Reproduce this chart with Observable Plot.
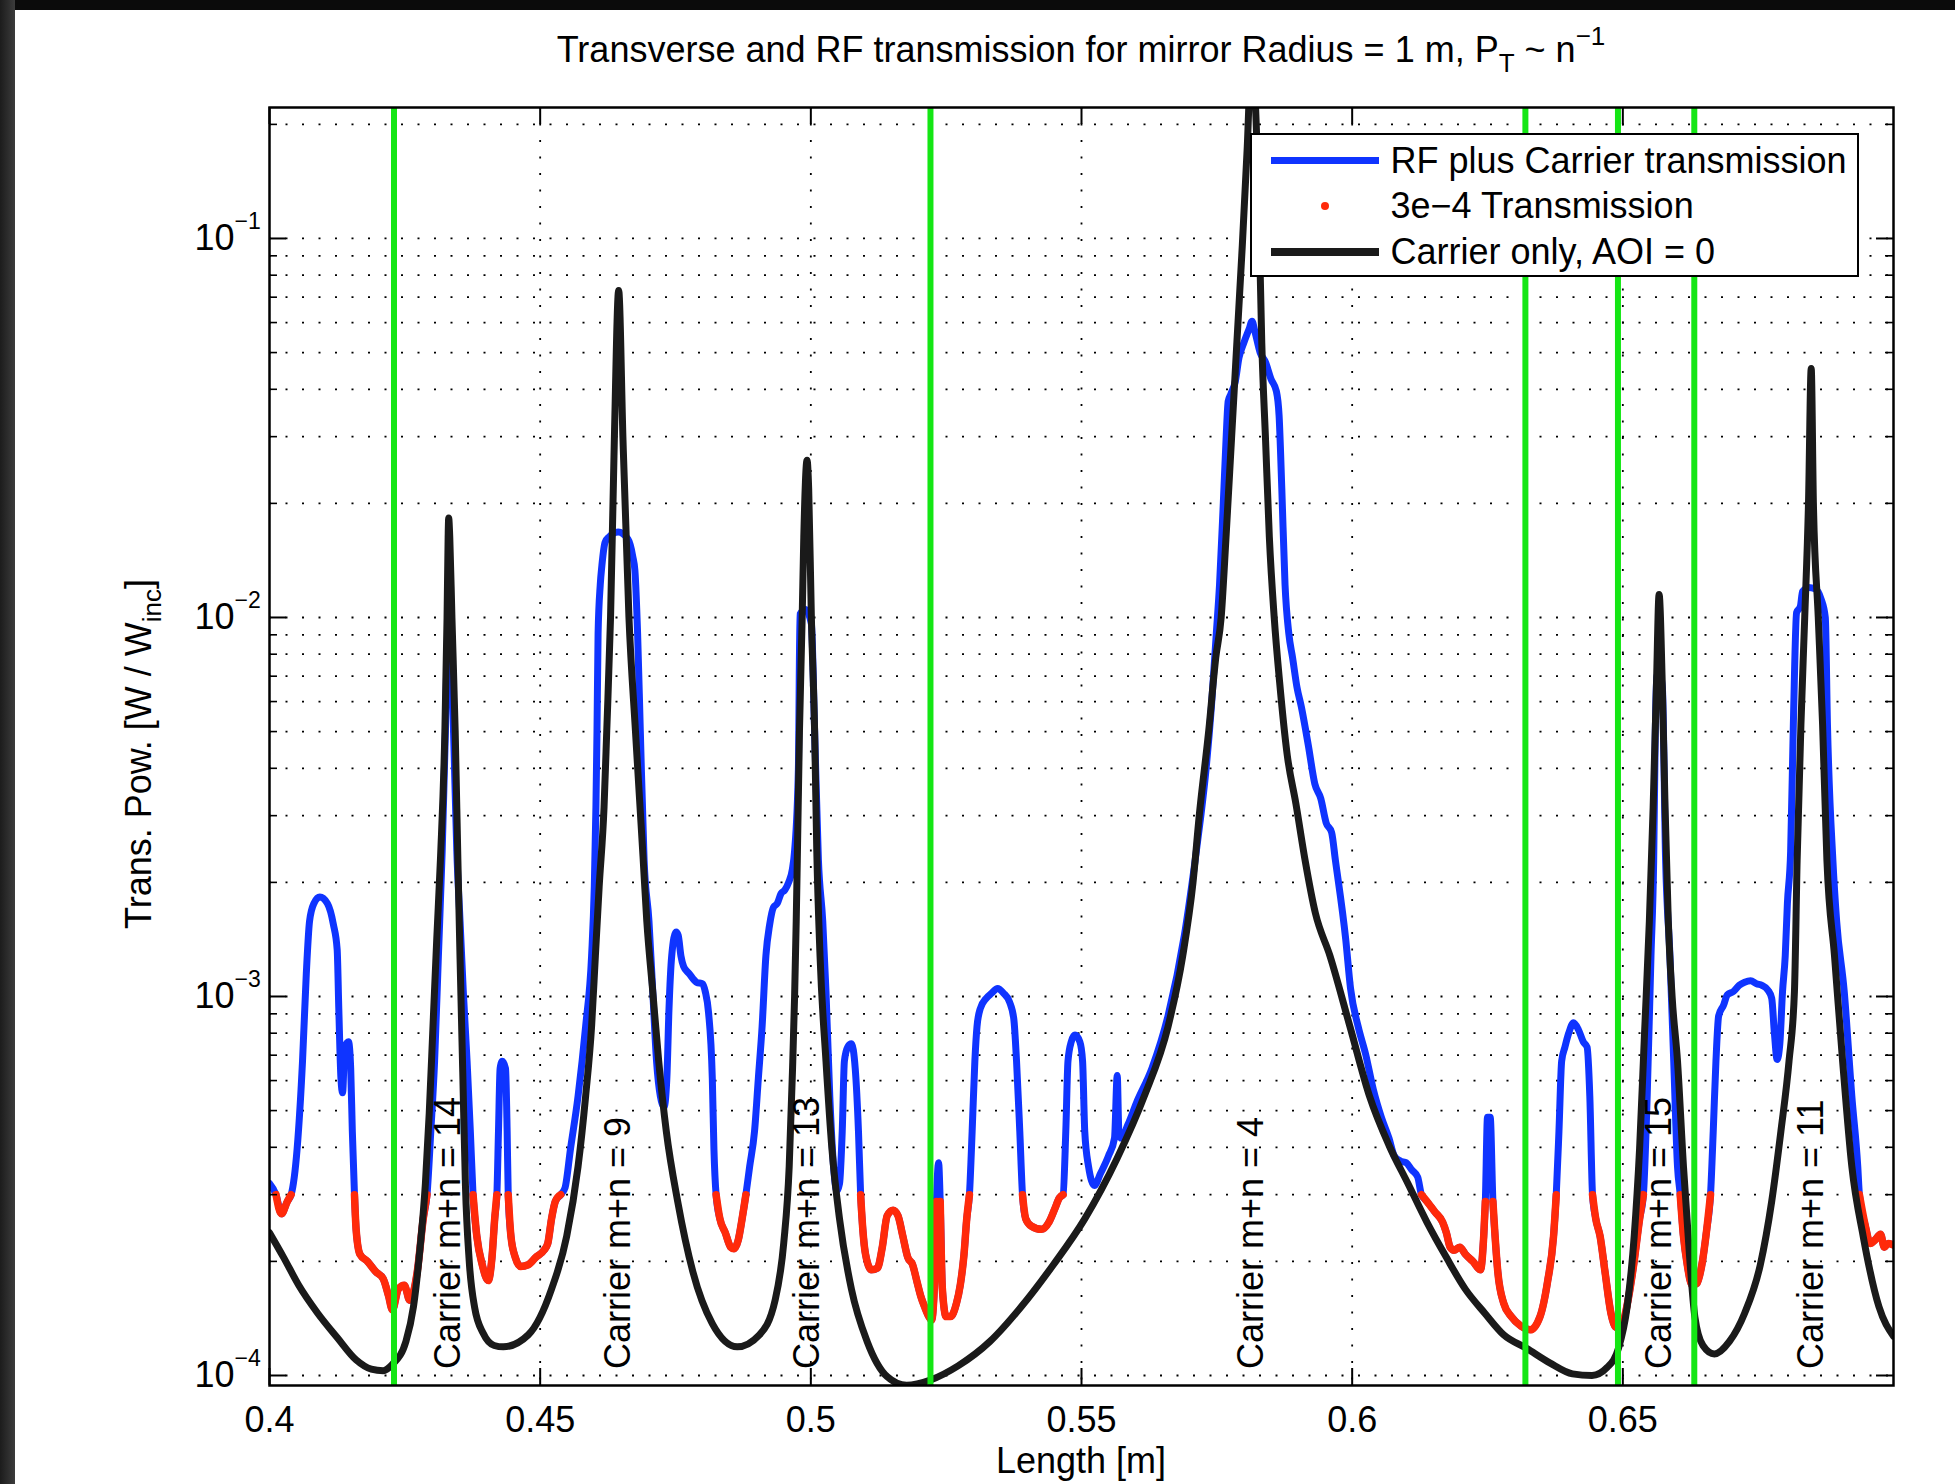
<!DOCTYPE html>
<html>
<head>
<meta charset="utf-8">
<script src="https://cdn.jsdelivr.net/npm/d3@7"></script>
<script src="https://cdn.jsdelivr.net/npm/@observablehq/plot@0.6"></script>
<style>
  html, body { margin: 0; padding: 0; width: 1955px; height: 1484px; overflow: hidden; background: #0b0b0b;
    font-family: "Liberation Sans", Arial, Helvetica, sans-serif; color: #000; }
  #leftstrip { position: absolute; left: 0; top: 0; width: 15px; height: 1484px; background: linear-gradient(to right, #1c1c1c, #3c3c3c); }
  #panel { position: absolute; left: 15px; top: 10px; width: 1940px; height: 1474px; background: #fff; }
  #chart { position: absolute; left: 0; top: 0; }
  .lbl { position: absolute; white-space: nowrap; font-size: 36px; line-height: 40px; }
  sub { font-size: 26px; vertical-align: -10px; line-height: 0; }
  sup { font-size: 26px; vertical-align: 17px; line-height: 0; }
  #legend { position: absolute; left: 1250px; top: 133px; width: 609px; height: 144px; box-sizing: border-box;
    border: 2.5px solid #000; background: #fff; }
  #legend .sw { position: absolute; }
  #legend .tx { position: absolute; left: 138.5px; font-size: 36px; line-height: 40px; white-space: nowrap; }
</style>
</head>
<body>
<div id="leftstrip"></div>
<div id="panel"></div>
<div id="chart"></div>
<div class="lbl" id="title" style="left:269px;width:1624px;top:30px;text-align:center;">Transverse and RF transmission for mirror Radius = 1 m, P<sub>T</sub> ~ n<sup>−1</sup></div>
<div class="lbl" id="xlabel" style="left:269px;width:1624px;top:1441px;text-align:center;">Length [m]</div>
<div class="lbl" id="ylabel" style="left:139px;top:754px;transform:translate(-50%,-50%) rotate(-90deg);">Trans. Pow. [W / W<sub>inc</sub>]</div>
<div id="legend">
  <div class="sw" style="left:18.5px;top:22px;width:108px;height:7px;background:#0f34ff;"></div>
  <div class="tx" style="top:5.5px;">RF plus Carrier transmission</div>
  <div class="sw" style="left:68.5px;top:66.5px;width:8px;height:8px;border-radius:4px;background:#ff2a0a;"></div>
  <div class="tx" style="top:50.5px;">3e−4 Transmission</div>
  <div class="sw" style="left:18.5px;top:112.5px;width:108px;height:8px;background:#1a1a1a;"></div>
  <div class="tx" style="top:96.5px;">Carrier only, AOI = 0</div>
</div>
<script>
// ---------------- data ----------------
const carrierLength = [
  0.4000, 0.4026, 0.4054, 0.4089, 0.4125, 0.4160, 0.4188, 0.4210, 0.4227, 0.4252,
  0.4266, 0.4277, 0.4288, 0.4295, 0.4302, 0.4309, 0.4316, 0.4324, 0.4328, 0.4330,
  0.4331, 0.4333, 0.4337, 0.4343, 0.4348, 0.4352, 0.4357, 0.4362, 0.4369, 0.4379,
  0.4395, 0.4415, 0.4432, 0.4478, 0.4521, 0.4549, 0.4570, 0.4584, 0.4595, 0.4602,
  0.4609, 0.4618, 0.4623, 0.4630, 0.4637, 0.4645, 0.4653, 0.4664, 0.4676, 0.4690,
  0.4697, 0.4708, 0.4719, 0.4733, 0.4754, 0.4782, 0.4818, 0.4864, 0.4905, 0.4934,
  0.4950, 0.4960, 0.4966, 0.4970, 0.4973, 0.4975, 0.4979, 0.4984, 0.4987, 0.4993,
  0.4996, 0.5001, 0.5007, 0.5011, 0.5017, 0.5028, 0.5039, 0.5053, 0.5075, 0.5104,
  0.5141, 0.5177, 0.5221, 0.5272, 0.5331, 0.5389, 0.5448, 0.5506, 0.5565, 0.5616,
  0.5660, 0.5687, 0.5706, 0.5718, 0.5735, 0.5748, 0.5758, 0.5767, 0.5777, 0.5787,
  0.5797, 0.5806, 0.5814, 0.5827, 0.5833, 0.5840, 0.5847, 0.5856, 0.5866, 0.5880,
  0.5896, 0.5913, 0.5932, 0.5959, 0.5996, 0.6032, 0.6068, 0.6103, 0.6138, 0.6174,
  0.6209, 0.6245, 0.6280, 0.6322, 0.6365, 0.6407, 0.6443, 0.6471, 0.6492, 0.6508,
  0.6521, 0.6531, 0.6540, 0.6549, 0.6556, 0.6562, 0.6567, 0.6573, 0.6578, 0.6584,
  0.6591, 0.6601, 0.6612, 0.6623, 0.6633, 0.6648, 0.6669, 0.6697, 0.6725, 0.6754,
  0.6775, 0.6792, 0.6807, 0.6817, 0.6822, 0.6829, 0.6836, 0.6843, 0.6848, 0.6852,
  0.6861, 0.6869, 0.6877, 0.6891, 0.6906, 0.6923, 0.6944, 0.6973, 0.7000
];
const carrierPower = [
  2.38e-4, 2.05e-4, 1.73e-4, 1.46e-4, 1.26e-4, 1.10e-4, 1.04e-4, 1.03e-4, 1.07e-4, 1.23e-4,
  1.52e-4, 2.09e-4, 3.21e-4, 4.90e-4, 8.34e-4, 1.42e-3, 2.34e-3, 5.02e-3, 1.00e-2, 1.63e-2,
  1.83e-2, 1.63e-2, 1.00e-2, 5.02e-3, 2.29e-3, 1.26e-3, 6.31e-4, 3.16e-4, 2.00e-4, 1.51e-4,
  1.29e-4, 1.20e-4, 1.19e-4, 1.28e-4, 1.69e-4, 2.33e-4, 3.56e-4, 5.46e-4, 8.34e-4, 1.28e-3,
  1.95e-3, 3.16e-3, 5.02e-3, 1.00e-2, 2.94e-2, 7.29e-2, 2.94e-2, 1.00e-2, 5.02e-3, 2.34e-3,
  1.58e-3, 1.03e-3, 6.75e-4, 4.41e-4, 2.88e-4, 1.88e-4, 1.37e-4, 1.19e-4, 1.28e-4, 1.58e-4,
  2.24e-4, 3.55e-4, 6.31e-4, 1.00e-3, 1.58e-3, 2.29e-3, 5.02e-3, 1.00e-2, 1.63e-2, 2.60e-2,
  2.19e-2, 1.00e-2, 5.02e-3, 2.42e-3, 1.28e-3, 6.75e-4, 3.96e-4, 2.59e-4, 1.69e-4, 1.23e-4,
  9.93e-5, 9.42e-5, 9.73e-5, 1.06e-4, 1.23e-4, 1.52e-4, 1.96e-4, 2.59e-4, 3.72e-4, 5.46e-4,
  8.34e-4, 1.28e-3, 2.00e-3, 3.05e-3, 5.02e-3, 7.82e-3, 1.00e-2, 1.63e-2, 2.94e-2, 5.31e-2,
  9.55e-2, 0.172, 0.302, 0.128, 5.31e-2, 2.94e-2, 1.63e-2, 1.00e-2, 6.75e-3, 4.34e-3,
  3.23e-3, 2.29e-3, 1.66e-3, 1.28e-3, 8.32e-4, 5.46e-4, 4.05e-4, 3.21e-4, 2.54e-4, 2.05e-4,
  1.69e-4, 1.46e-4, 1.28e-4, 1.18e-4, 1.08e-4, 1.01e-4, 1.00e-4, 1.05e-4, 1.18e-4, 1.52e-4,
  2.33e-4, 3.98e-4, 7.94e-4, 1.58e-3, 3.16e-3, 6.53e-3, 1.15e-2, 6.53e-3, 3.16e-3, 1.58e-3,
  1.00e-3, 6.75e-4, 3.56e-4, 2.09e-4, 1.43e-4, 1.20e-4, 1.14e-4, 1.23e-4, 1.46e-4, 1.96e-4,
  2.88e-4, 4.41e-4, 6.75e-4, 1.03e-3, 2.29e-3, 5.22e-3, 1.00e-2, 2.01e-2, 4.54e-2, 2.01e-2,
  1.00e-2, 5.22e-3, 2.29e-3, 1.28e-3, 6.75e-4, 3.56e-4, 2.33e-4, 1.52e-4, 1.27e-4
];

const rfLength = [
  0.4000, 0.4012, 0.4022, 0.4033, 0.4040, 0.4051, 0.4061, 0.4068, 0.4074, 0.4082,
  0.4093, 0.4107, 0.4118, 0.4125, 0.4128, 0.4132, 0.4135, 0.4139, 0.4146, 0.4150,
  0.4153, 0.4157, 0.4160, 0.4167, 0.4181, 0.4196, 0.4210, 0.4220, 0.4227, 0.4238,
  0.4249, 0.4259, 0.4273, 0.4284, 0.4291, 0.4298, 0.4305, 0.4312, 0.4319, 0.4325,
  0.4329, 0.4332, 0.4336, 0.4340, 0.4346, 0.4352, 0.4358, 0.4365, 0.4371, 0.4376,
  0.4383, 0.4393, 0.4404, 0.4411, 0.4416, 0.4420, 0.4423, 0.4426, 0.4430, 0.4436,
  0.4439, 0.4441, 0.4446, 0.4454, 0.4464, 0.4478, 0.4492, 0.4507, 0.4514, 0.4521,
  0.4528, 0.4538, 0.4546, 0.4556, 0.4570, 0.4584, 0.4595, 0.4600, 0.4603, 0.4605,
  0.4607, 0.4611, 0.4614, 0.4620, 0.4627, 0.4644, 0.4662, 0.4671, 0.4675, 0.4680,
  0.4685, 0.4692, 0.4701, 0.4708, 0.4715, 0.4722, 0.4729, 0.4734, 0.4738, 0.4743,
  0.4751, 0.4755, 0.4760, 0.4765, 0.4775, 0.4789, 0.4800, 0.4805, 0.4811, 0.4818,
  0.4821, 0.4825, 0.4832, 0.4842, 0.4852, 0.4858, 0.4866, 0.4873, 0.4880, 0.4887,
  0.4896, 0.4903, 0.4910, 0.4917, 0.4924, 0.4931, 0.4938, 0.4945, 0.4952, 0.4959,
  0.4966, 0.4970, 0.4977, 0.4980, 0.4990, 0.5001, 0.5007, 0.5014, 0.5022, 0.5028,
  0.5035, 0.5042, 0.5048, 0.5053, 0.5058, 0.5062, 0.5068, 0.5075, 0.5082, 0.5088,
  0.5092, 0.5096, 0.5101, 0.5112, 0.5123, 0.5132, 0.5141, 0.5152, 0.5161, 0.5170,
  0.5179, 0.5188, 0.5196, 0.5203, 0.5210, 0.5218, 0.5223, 0.5228, 0.5232, 0.5236,
  0.5239, 0.5243, 0.5250, 0.5258, 0.5269, 0.5276, 0.5283, 0.5288, 0.5293, 0.5298,
  0.5303, 0.5307, 0.5313, 0.5324, 0.5334, 0.5345, 0.5356, 0.5367, 0.5375, 0.5380,
  0.5386, 0.5391, 0.5397, 0.5407, 0.5426, 0.5440, 0.5451, 0.5459, 0.5466, 0.5471,
  0.5475, 0.5481, 0.5488, 0.5497, 0.5502, 0.5506, 0.5513, 0.5524, 0.5535, 0.5550,
  0.5561, 0.5566, 0.5569, 0.5573, 0.5586, 0.5601, 0.5630, 0.5660, 0.5690, 0.5710,
  0.5720, 0.5730, 0.5740, 0.5749, 0.5755, 0.5762, 0.5767, 0.5771, 0.5776, 0.5784,
  0.5791, 0.5800, 0.5810, 0.5815, 0.5820, 0.5830, 0.5840, 0.5850, 0.5860, 0.5865,
  0.5870, 0.5876, 0.5883, 0.5890, 0.5898, 0.5906, 0.5919, 0.5931, 0.5942, 0.5952,
  0.5962, 0.5969, 0.5988, 0.5997, 0.6011, 0.6025, 0.6039, 0.6054, 0.6068, 0.6078,
  0.6089, 0.6100, 0.6110, 0.6121, 0.6128, 0.6138, 0.6153, 0.6167, 0.6174, 0.6181,
  0.6188, 0.6199, 0.6209, 0.6223, 0.6237, 0.6243, 0.6246, 0.6250, 0.6255, 0.6260,
  0.6264, 0.6269, 0.6280, 0.6294, 0.6312, 0.6329, 0.6347, 0.6361, 0.6372, 0.6377,
  0.6382, 0.6387, 0.6393, 0.6400, 0.6409, 0.6418, 0.6427, 0.6434, 0.6439, 0.6444,
  0.6450, 0.6458, 0.6467, 0.6478, 0.6488, 0.6499, 0.6510, 0.6520, 0.6531, 0.6538,
  0.6545, 0.6552, 0.6557, 0.6560, 0.6563, 0.6567, 0.6573, 0.6579, 0.6587, 0.6594,
  0.6601, 0.6606, 0.6612, 0.6619, 0.6628, 0.6637, 0.6646, 0.6655, 0.6662, 0.6667,
  0.6672, 0.6677, 0.6686, 0.6693, 0.6704, 0.6715, 0.6725, 0.6736, 0.6747, 0.6757,
  0.6768, 0.6775, 0.6780, 0.6785, 0.6790, 0.6795, 0.6800, 0.6804, 0.6810, 0.6815,
  0.6821, 0.6828, 0.6832, 0.6843, 0.6855, 0.6866, 0.6874, 0.6878, 0.6888, 0.6895,
  0.6909, 0.6923, 0.6934, 0.6937, 0.6948, 0.6957, 0.6966, 0.6976, 0.6983, 0.6990,
  0.7000
];
const rfPower = [
  3.21e-4, 3.00e-4, 2.67e-4, 2.88e-4, 3.00e-4, 3.96e-4, 6.75e-4, 1.15e-3, 1.58e-3, 1.76e-3,
  1.83e-3, 1.76e-3, 1.55e-3, 1.33e-3, 9.29e-4, 6.07e-4, 5.57e-4, 7.35e-4, 7.59e-4, 6.46e-4,
  4.41e-4, 3.00e-4, 2.43e-4, 2.09e-4, 2.00e-4, 1.88e-4, 1.80e-4, 1.62e-4, 1.49e-4, 1.69e-4,
  1.73e-4, 1.58e-4, 1.88e-4, 2.59e-4, 3.00e-4, 4.41e-4, 6.75e-4, 1.28e-3, 2.42e-3, 5.01e-3,
  8.91e-3, 9.55e-3, 7.94e-3, 5.00e-3, 2.42e-3, 1.58e-3, 1.03e-3, 6.75e-4, 4.41e-4, 3.00e-4,
  2.33e-4, 1.96e-4, 1.78e-4, 2.05e-4, 2.59e-4, 3.00e-4, 4.41e-4, 6.46e-4, 6.75e-4, 6.46e-4,
  4.41e-4, 3.00e-4, 2.33e-4, 2.05e-4, 1.94e-4, 1.96e-4, 2.05e-4, 2.14e-4, 2.23e-4, 2.59e-4,
  2.88e-4, 3.00e-4, 3.13e-4, 3.96e-4, 5.46e-4, 8.34e-4, 1.28e-3, 1.95e-3, 3.16e-3, 5.02e-3,
  9.06e-3, 1.22e-2, 1.37e-2, 1.58e-2, 1.63e-2, 1.68e-2, 1.61e-2, 1.45e-2, 1.33e-2, 9.06e-3,
  5.02e-3, 2.29e-3, 1.58e-3, 1.03e-3, 6.75e-4, 5.46e-4, 5.12e-4, 6.07e-4, 9.29e-4, 1.28e-3,
  1.48e-3, 1.45e-3, 1.28e-3, 1.20e-3, 1.15e-3, 1.09e-3, 1.08e-3, 1.03e-3, 9.08e-4, 6.07e-4,
  3.96e-4, 3.00e-4, 2.59e-4, 2.38e-4, 2.18e-4, 2.16e-4, 2.28e-4, 2.59e-4, 3.00e-4, 3.56e-4,
  4.41e-4, 6.07e-4, 8.34e-4, 1.28e-3, 1.55e-3, 1.72e-3, 1.76e-3, 1.87e-3, 1.91e-3, 2.00e-3,
  2.17e-3, 2.42e-3, 3.98e-3, 1.02e-2, 1.05e-2, 9.62e-3, 5.02e-3, 2.29e-3, 1.58e-3, 1.03e-3,
  5.46e-4, 3.56e-4, 3.07e-4, 3.21e-4, 4.41e-4, 6.75e-4, 7.35e-4, 7.50e-4, 6.46e-4, 4.41e-4,
  3.00e-4, 2.43e-4, 2.09e-4, 1.90e-4, 1.92e-4, 2.18e-4, 2.64e-4, 2.73e-4, 2.64e-4, 2.33e-4,
  2.05e-4, 1.96e-4, 1.77e-4, 1.62e-4, 1.52e-4, 1.43e-4, 1.40e-4, 1.69e-4, 2.88e-4, 3.64e-4,
  2.88e-4, 1.69e-4, 1.43e-4, 1.43e-4, 1.55e-4, 1.73e-4, 2.09e-4, 2.59e-4, 3.00e-4, 4.41e-4,
  6.75e-4, 8.34e-4, 9.29e-4, 9.89e-4, 1.02e-3, 1.05e-3, 1.02e-3, 9.68e-4, 8.71e-4, 6.75e-4,
  4.41e-4, 3.00e-4, 2.59e-4, 2.48e-4, 2.43e-4, 2.54e-4, 2.76e-4, 2.94e-4, 3.00e-4, 4.41e-4,
  6.75e-4, 7.59e-4, 7.91e-4, 7.59e-4, 6.75e-4, 4.41e-4, 3.56e-4, 3.17e-4, 3.41e-4, 3.80e-4,
  4.23e-4, 6.19e-4, 4.41e-4, 4.23e-4, 4.60e-4, 5.22e-4, 6.46e-4, 8.91e-4, 1.45e-3, 2.29e-3,
  2.96e-3, 3.97e-3, 5.82e-3, 9.06e-3, 1.22e-2, 2.01e-2, 2.94e-2, 3.72e-2, 3.89e-2, 4.19e-2,
  4.85e-2, 5.31e-2, 5.79e-2, 6.05e-2, 5.71e-2, 5.00e-2, 4.71e-2, 4.26e-2, 3.95e-2, 3.41e-2,
  2.19e-2, 1.22e-2, 9.06e-3, 7.82e-3, 6.55e-3, 5.82e-3, 4.60e-3, 3.64e-3, 3.33e-3, 2.87e-3,
  2.71e-3, 2.29e-3, 1.42e-3, 1.05e-3, 8.34e-4, 7.03e-4, 5.69e-4, 4.80e-4, 4.23e-4, 3.79e-4,
  3.68e-4, 3.64e-4, 3.49e-4, 3.34e-4, 3.00e-4, 2.88e-4, 2.70e-4, 2.54e-4, 2.38e-4, 2.18e-4,
  2.14e-4, 2.18e-4, 2.09e-4, 2.00e-4, 1.90e-4, 2.33e-4, 2.88e-4, 4.80e-4, 4.80e-4, 2.88e-4,
  2.33e-4, 1.88e-4, 1.55e-4, 1.43e-4, 1.35e-4, 1.32e-4, 1.43e-4, 1.77e-4, 2.33e-4, 3.00e-4,
  4.41e-4, 6.75e-4, 7.35e-4, 8.00e-4, 8.53e-4, 8.17e-4, 7.59e-4, 7.35e-4, 5.46e-4, 3.00e-4,
  2.59e-4, 2.33e-4, 1.88e-4, 1.46e-4, 1.34e-4, 1.37e-4, 1.59e-4, 1.96e-4, 2.59e-4, 3.00e-4,
  5.46e-4, 1.28e-3, 2.29e-3, 5.01e-3, 7.00e-3, 7.24e-3, 6.53e-3, 2.29e-3, 1.28e-3, 6.75e-4,
  3.56e-4, 3.00e-4, 2.33e-4, 1.96e-4, 1.73e-4, 1.75e-4, 1.96e-4, 2.43e-4, 3.00e-4, 4.41e-4,
  6.75e-4, 8.89e-4, 9.48e-4, 1.01e-3, 1.03e-3, 1.07e-3, 1.09e-3, 1.10e-3, 1.08e-3, 1.07e-3,
  1.04e-3, 9.89e-4, 8.00e-4, 6.82e-4, 7.50e-4, 1.03e-3, 1.28e-3, 1.76e-3, 2.42e-3, 5.22e-3,
  1.03e-2, 1.07e-2, 1.17e-2, 1.20e-2, 1.19e-2, 1.12e-2, 1.00e-2, 5.22e-3, 2.29e-3, 1.58e-3,
  1.03e-3, 5.46e-4, 3.56e-4, 3.00e-4, 2.48e-4, 2.23e-4, 2.28e-4, 2.36e-4, 2.18e-4, 2.23e-4,
  2.21e-4
];

const thresholdPower = 3e-4;                       // "3e-4 Transmission" level
const markerLength = [0.4230, 0.5221, 0.6320, 0.6491, 0.6632];   // green vertical lines
const modeLength = [0.4331, 0.4645, 0.4993, 0.5814, 0.6567, 0.6848];
const modeOrder = [14, 9, 13, 4, 15, 11];
const xTicks = [0.4, 0.45, 0.5, 0.55, 0.6, 0.65];
const xTickLabels = ["0.4", "0.45", "0.5", "0.55", "0.6", "0.65"];
const yMajor = [1e-4, 1e-3, 1e-2, 1e-1];
const yMajorExp = ["−4", "−3", "−2", "−1"];
const yMinor = [
  2e-4, 3e-4, 4e-4, 5e-4, 6e-4, 7e-4, 8e-4, 9e-4,
  2e-3, 3e-3, 4e-3, 5e-3, 6e-3, 7e-3, 8e-3, 9e-3,
  2e-2, 3e-2, 4e-2, 5e-2, 6e-2, 7e-2, 8e-2, 9e-2,
  2e-1
];

// ---------------- build ----------------
const carrier = carrierLength.map((x, i) => ({x, y: carrierPower[i]}));
const rf = rfLength.map((x, i) => ({x, y: rfPower[i]}));
const modes = modeLength.map((x, i) => ({x, label: "Carrier m+n = " + modeOrder[i]}));
const xTickRows = xTicks.map((v, i) => ({v, label: xTickLabels[i]}));
const yTickRows = yMajor.map((v, i) => ({v, exp: yMajorExp[i]}));
const yGrid = yMajor.concat(yMinor);

const W = 1955, H = 1484;
const mL = 269, mR = 62, mT = 107, mB = 99;
const plotW = W - mL - mR, plotH = H - mT - mB;

const BLUE = "#0f34ff", RED = "#ff2a0a", BLACK = "#1a1a1a", GREEN = "#14e614";
const dotted = {stroke: "#000", strokeWidth: 1.8, strokeDasharray: "2,14.5"};

const chart = Plot.plot({
  width: W, height: H,
  marginLeft: mL, marginRight: mR, marginTop: mT, marginBottom: mB,
  style: {background: "transparent", overflow: "visible", fontFamily: "'Liberation Sans', Arial, Helvetica, sans-serif"},
  x: {domain: [0.4, 0.7], axis: null},
  y: {type: "log", domain: [9.41e-5, 0.2216], axis: null},
  marks: [
    Plot.ruleX(xTicks.slice(1), {x: d => d, ...dotted}),
    Plot.ruleY(yGrid, {y: d => d, ...dotted}),
    Plot.line(rf, {x: "x", y: "y", stroke: BLUE, strokeWidth: 7, curve: "monotone-x", clip: true}),
    Plot.line(rf, {x: "x", y: d => d.y <= thresholdPower ? d.y : NaN, stroke: RED, strokeWidth: 7.5,
      curve: "monotone-x", clip: true}),
    Plot.line(carrier, {x: "x", y: "y", stroke: BLACK, strokeWidth: 7, curve: "monotone-x", clip: true}),
    Plot.ruleX(markerLength, {x: d => d, stroke: GREEN, strokeWidth: 6}),
    Plot.text(modes, {x: "x", y: () => 1.04e-4, text: "label", rotate: -90, textAnchor: "start",
      lineAnchor: "middle", fontSize: 36, fill: "#000"}),
    // ticks (inward, all four sides)
    Plot.tickX(xTicks, {x: d => d, insetTop: plotH - 17, stroke: "#000", strokeWidth: 2}),
    Plot.tickX(xTicks, {x: d => d, insetBottom: plotH - 17, stroke: "#000", strokeWidth: 2}),
    Plot.tickY(yMajor, {y: d => d, insetRight: plotW - 17, stroke: "#000", strokeWidth: 2}),
    Plot.tickY(yMajor, {y: d => d, insetLeft: plotW - 17, stroke: "#000", strokeWidth: 2}),
    Plot.tickY(yMinor, {y: d => d, insetRight: plotW - 8, stroke: "#000", strokeWidth: 1.6}),
    Plot.tickY(yMinor, {y: d => d, insetLeft: plotW - 8, stroke: "#000", strokeWidth: 1.6}),
    Plot.frame({stroke: "#000", strokeWidth: 2.5}),
    // tick labels
    Plot.text(xTickRows, {x: "v", frameAnchor: "bottom", text: "label", dy: 35, lineAnchor: "middle",
      fontSize: 36, fill: "#000"}),
    Plot.text(yTickRows, {y: "v", frameAnchor: "left", text: () => "10", textAnchor: "end", dx: -35,
      lineAnchor: "middle", fontSize: 36, fill: "#000"}),
    Plot.text(yTickRows, {y: "v", frameAnchor: "left", text: "exp", textAnchor: "start", dx: -35, dy: -17,
      lineAnchor: "middle", fontSize: 23, fill: "#000"})
  ]
});
document.getElementById("chart").appendChild(chart);
</script>
</body>
</html>
